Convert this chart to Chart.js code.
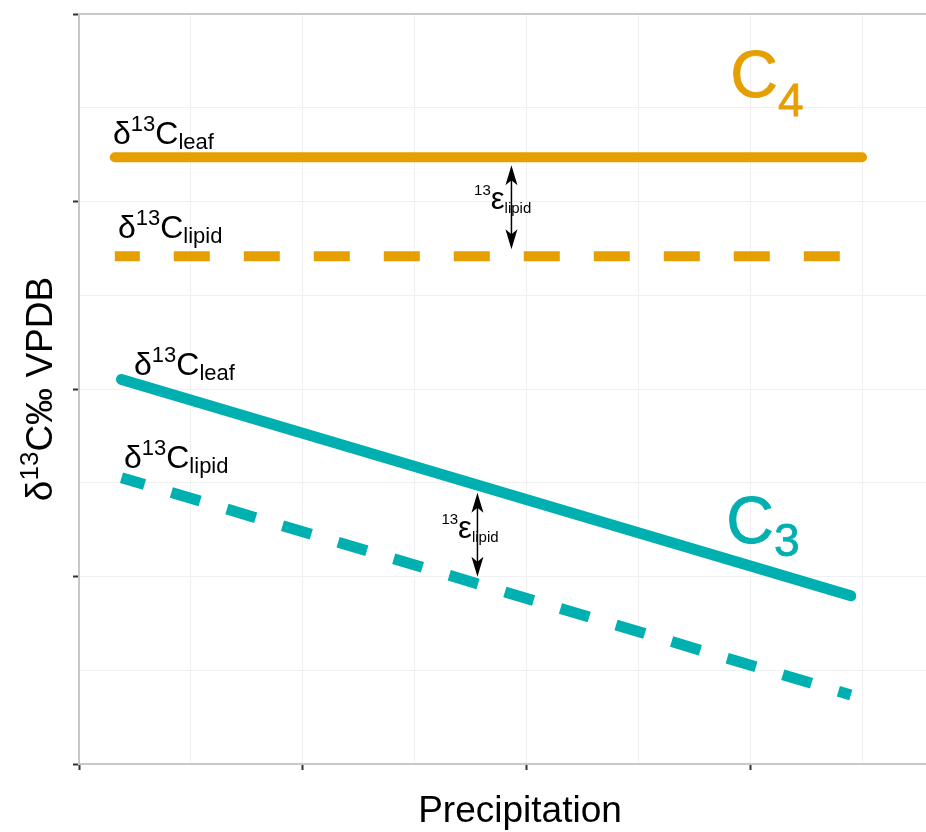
<!DOCTYPE html>
<html>
<head>
    <meta charset="utf-8"/>
    <title>Leaf and lipid d13C vs precipitation</title>
    <script src="https://cdn.jsdelivr.net/npm/chart.js@4.4.1/dist/chart.umd.min.js"></script>
    <style>
        body { margin: 0; background: #fff; }
        #wrap { width: 926px; height: 832px; }
    </style>
</head>
<body>
    <div id="wrap"><canvas id="myChart" width="926" height="832"></canvas></div>
    <script>
        // values (arbitrary units, axes carry no labels)
        const c4Precip = [0.16, 3.50];
        const c4Leaf = [3.236, 3.236];
        const c4Lipid = [2.708, 2.708];
        const c3Precip = [0.19, 3.45];
        const c3Leaf = [2.051, 0.897];
        const c3Lipid = [1.527, 0.368];

        const xMajorTicks = [0, 1, 2, 3];
        const yMajorTicks = [0, 1, 2, 3, 4];

        const orange = '#E69F00';
        const teal = '#00AFAF';
        const FONT = '"Liberation Sans", Arial, sans-serif';

        // text annotations, positioned in data units
        const curveLabels = [
            { x: 0.152, y: 3.306, sub: 'leaf' },
            { x: 0.174, y: 2.804, sub: 'lipid' },
            { x: 0.246, y: 2.077, sub: 'leaf' },
            { x: 0.201, y: 1.581, sub: 'lipid' },
        ];
        const pathLabels = [
            { x: 2.911, y: 3.557, sub: '4', subDy: 19, color: orange },
            { x: 2.893, y: 1.180, sub: '3', subDy: 13, color: teal },
        ];
        const epsArrows = [
            { x: 1.933, top: 3.194, bottom: 2.745, labelX: 1.766, labelY: 2.959 },
            { x: 1.781, top: 1.447, bottom: 0.999, labelX: 1.620, labelY: 1.207 },
        ];

        function pts(xs, ys) {
            return xs.map((x, i) => ({ x: x, y: ys[i] }));
        }

        function drawRich(ctx, x, y, parts, color, stroke) {
            let cx = x;
            ctx.fillStyle = color;
            ctx.strokeStyle = color;
            ctx.textBaseline = 'alphabetic';
            ctx.textAlign = 'left';
            parts.forEach(p => {
                ctx.font = p.size + 'px ' + FONT;
                ctx.fillText(p.t, cx, y + (p.dy || 0));
                if (stroke) {
                    ctx.lineWidth = stroke;
                    ctx.strokeText(p.t, cx, y + (p.dy || 0));
                }
                cx += ctx.measureText(p.t).width;
            });
        }

        function richWidth(ctx, parts) {
            let w = 0;
            parts.forEach(p => {
                ctx.font = p.size + 'px ' + FONT;
                w += ctx.measureText(p.t).width;
            });
            return w;
        }

        function arrowHead(ctx, x, y, dir) {
            // dir = -1 points up, 1 points down
            ctx.beginPath();
            ctx.moveTo(x, y);
            ctx.lineTo(x - 6, y - dir * 20);
            ctx.lineTo(x, y - dir * 15);
            ctx.lineTo(x + 6, y - dir * 20);
            ctx.closePath();
            ctx.fill();
        }

        const annotations = {
            id: 'annotations',
            beforeDatasetsDraw(chart) {
                const { ctx, chartArea } = chart;
                ctx.save();
                ctx.strokeStyle = '#c8c8c8';
                ctx.lineWidth = 2;
                ctx.beginPath();
                ctx.moveTo(chartArea.left, chartArea.top);
                ctx.lineTo(chartArea.right, chartArea.top);
                ctx.stroke();
                ctx.restore();
            },
            afterDatasetsDraw(chart) {
                const { ctx, chartArea } = chart;
                const xs = chart.scales.x;
                const ys = chart.scales.y;
                ctx.save();

                curveLabels.forEach(l => {
                    drawRich(ctx, xs.getPixelForValue(l.x), ys.getPixelForValue(l.y), [
                        { t: 'δ', size: 32 },
                        { t: '13', size: 22, dy: -13 },
                        { t: 'C', size: 32 },
                        { t: l.sub, size: 22, dy: 5 },
                    ], '#000');
                });

                pathLabels.forEach(l => {
                    drawRich(ctx, xs.getPixelForValue(l.x), ys.getPixelForValue(l.y), [
                        { t: 'C', size: 66 },
                        { t: l.sub, size: 46, dy: l.subDy },
                    ], l.color, 0.8);
                });

                epsArrows.forEach(a => {
                    const px = xs.getPixelForValue(a.x);
                    const y0 = ys.getPixelForValue(a.top);
                    const y1 = ys.getPixelForValue(a.bottom);
                    ctx.fillStyle = '#000';
                    ctx.strokeStyle = '#000';
                    ctx.lineWidth = 1.5;
                    ctx.beginPath();
                    ctx.moveTo(px, y0 + 10);
                    ctx.lineTo(px, y1 - 10);
                    ctx.stroke();
                    arrowHead(ctx, px, y0, -1);
                    arrowHead(ctx, px, y1, 1);
                    drawRich(ctx, xs.getPixelForValue(a.labelX), ys.getPixelForValue(a.labelY), [
                        { t: '13', size: 15, dy: -14 },
                        { t: 'ε', size: 31 },
                        { t: 'lipid', size: 15, dy: 4 },
                    ], '#000');
                });

                // axis titles
                const xParts = [{ t: 'Precipitation', size: 37 }];
                drawRich(ctx, 520 - richWidth(ctx, xParts) / 2, 822, xParts, '#000');

                const yParts = [
                    { t: 'δ', size: 37 },
                    { t: '13', size: 26, dy: -14 },
                    { t: 'C‰ VPDB', size: 37 },
                ];
                const cy = (chartArea.top + chartArea.bottom) / 2;
                ctx.translate(52, cy);
                ctx.rotate(-Math.PI / 2);
                drawRich(ctx, -richWidth(ctx, yParts) / 2, 0, yParts, '#000');
                ctx.restore();
            }
        };

        function isMajor(ctx, majors) {
            return ctx.tick && majors.some(m => Math.abs(ctx.tick.value - m) < 1e-6);
        }

        function axis(min, max, majors) {
            return {
                type: 'linear',
                min: min,
                max: max,
                ticks: { display: false, stepSize: 0.5, includeBounds: false },
                grid: {
                    color: '#f0f0f0',
                    lineWidth: 1,
                    drawTicks: true,
                    tickLength: 6,
                    tickWidth: 2,
                    tickColor: ctx => isMajor(ctx, majors) ? '#333333' : 'rgba(0,0,0,0)',
                },
                border: { display: true, color: '#c8c8c8', width: 2 },
            };
        }

        const ctx = document.getElementById('myChart').getContext('2d');
        const myChart = new Chart(ctx, {
            type: 'line',
            data: {
                datasets: [
                    {
                        label: 'C4 leaf',
                        data: pts(c4Precip, c4Leaf),
                        borderColor: orange,
                        borderWidth: 10,
                        borderCapStyle: 'round',
                    },
                    {
                        label: 'C4 lipid',
                        data: pts(c4Precip, c4Lipid),
                        borderColor: orange,
                        borderWidth: 10,
                        borderDash: [36, 34],
                        borderDashOffset: 11,
                        borderCapStyle: 'butt',
                    },
                    {
                        label: 'C3 leaf',
                        data: pts(c3Precip, c3Leaf),
                        borderColor: teal,
                        borderWidth: 11,
                        borderCapStyle: 'round',
                    },
                    {
                        label: 'C3 lipid',
                        data: pts(c3Precip, c3Lipid),
                        borderColor: teal,
                        borderWidth: 11,
                        borderDash: [30, 28],
                        borderDashOffset: 6,
                        borderCapStyle: 'butt',
                    },
                ]
            },
            options: {
                responsive: false,
                animation: false,
                devicePixelRatio: 1,
                layout: { padding: { left: 73, top: 14, right: 0, bottom: 62 } },
                elements: { point: { radius: 0 }, line: { tension: 0 } },
                plugins: { legend: { display: false }, tooltip: { enabled: false } },
                scales: {
                    x: axis(0, 3.786, xMajorTicks),
                    y: axis(0, 4, yMajorTicks),
                }
            },
            plugins: [annotations]
        });
    </script>
</body>
</html>
